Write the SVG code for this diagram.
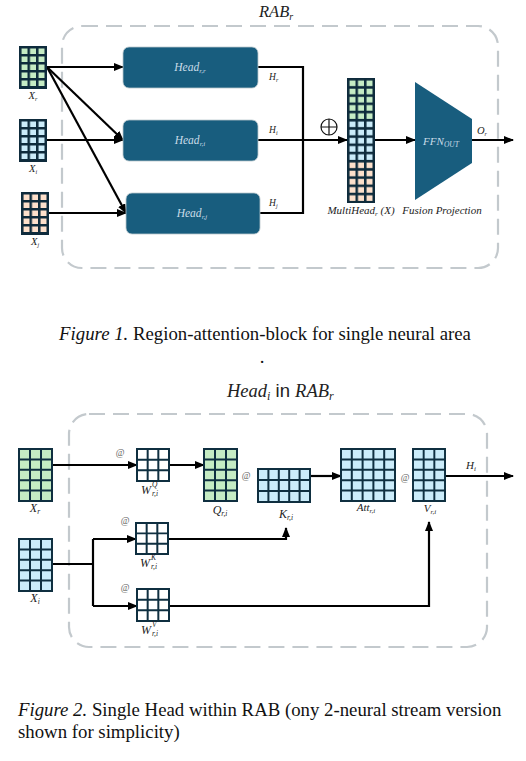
<svg xmlns="http://www.w3.org/2000/svg" xmlns:xlink="http://www.w3.org/1999/xlink" width="526" height="761" viewBox="0 0 526 761">
<style>
.dash{fill:none;stroke:#c3c9cd;stroke-width:2.2;stroke-dasharray:16 8}
.line{fill:none;stroke:#000;stroke-width:2.2}
.head{fill:#185d7e;stroke:#b9c6cc;stroke-width:0.8}
.dark{fill:#0e2b3c}
.grid{fill:none;stroke:#0f2f40;stroke-width:2}
.m{font-family:"Liberation Serif",serif;font-style:italic;fill:#222}
.hm{font-family:"Liberation Serif",serif;font-style:italic;fill:#c9dce8}
.cap{font-family:"Liberation Serif",serif;font-size:18.8px;fill:#111}
.at{font-family:"Liberation Serif",serif;fill:#666}
.gr{fill:#c5ecc4}.bl{fill:#cbecfa}.pe{fill:#fde0cb}.wh{fill:#fff}
</style>
<defs>
<marker id="ah" markerWidth="10" markerHeight="8" refX="9" refY="4" orient="auto" markerUnits="userSpaceOnUse"><path d="M0,0 L10,4 L0,8 Z" fill="#000"/></marker>
<pattern id="dg" width="8.5" height="8" patternUnits="userSpaceOnUse"><rect x="2.5" y="2.5" width="6" height="5.5" fill="#c5ecc4"/></pattern>
<pattern id="db" width="8.5" height="8" patternUnits="userSpaceOnUse"><rect x="2.5" y="2.5" width="6" height="5.5" fill="#cbecfa"/></pattern>
<pattern id="dp" width="8.5" height="8" patternUnits="userSpaceOnUse"><rect x="2.5" y="2.5" width="6" height="5.5" fill="#fde0cb"/></pattern>
<pattern id="mg" width="8.5" height="8.2" patternUnits="userSpaceOnUse"><rect x="2.5" y="2.5" width="6" height="5.6" fill="#c5ecc4"/></pattern>
<pattern id="mb" width="8.5" height="8.2" patternUnits="userSpaceOnUse"><rect x="2.5" y="2.5" width="6" height="5.6" fill="#cbecfa"/></pattern>
<pattern id="mp" width="8.5" height="8.2" patternUnits="userSpaceOnUse"><rect x="2.5" y="2.5" width="6" height="5.6" fill="#fde0cb"/></pattern>
<path id="g35" class="grid" d="M0,0H33V52H0Z M11,0V52 M22,0V52 M0,10.4H33 M0,20.8H33 M0,31.2H33 M0,41.6H33"/>
<path id="g33" class="grid" d="M0,0H32V32H0Z M10.67,0V32 M21.33,0V32 M0,10.67H32 M0,21.33H32"/>
<path id="g53" class="grid" d="M0,0H52V33H0Z M10.4,0V33 M20.8,0V33 M31.2,0V33 M41.6,0V33 M0,11H52 M0,22H52"/>
<path id="g55" class="grid" d="M0,0H54V52H0Z M10.8,0V52 M21.6,0V52 M32.4,0V52 M43.2,0V52 M0,10.4H54 M0,20.8H54 M0,31.2H54 M0,41.6H54"/>
</defs>
<rect width="526" height="761" fill="#fff"/>

<!-- Figure 1 -->
<g id="rab-frame">
<rect class="dash" x="62" y="26" width="436" height="242" rx="20"/>
<text class="m" x="259" y="17" font-size="16.5">RAB<tspan font-size="10" dy="3">r</tspan></text>
</g>

<g id="connectors-top">
<path class="line" d="M47,67 H123" marker-end="url(#ah)"/>
<path class="line" d="M47,67 L123,140" marker-end="url(#ah)"/>
<path class="line" d="M47,67 L126,213" marker-end="url(#ah)"/>
<path class="line" d="M47,140 H123" marker-end="url(#ah)"/>
<path class="line" d="M49,213 H126" marker-end="url(#ah)"/>
<path class="line" d="M258,67 H303 V213 H260"/>
<path class="line" d="M258,140 H347" marker-end="url(#ah)"/>
<path class="line" d="M375,140 H415" marker-end="url(#ah)"/>
<path class="line" d="M472,140 H513" marker-end="url(#ah)"/>
<text class="m" x="269" y="80" font-size="9.5">H<tspan font-size="6" dy="2">r</tspan></text>
<text class="m" x="269" y="133" font-size="9.5">H<tspan font-size="6" dy="2">i</tspan></text>
<text class="m" x="269" y="206" font-size="9.5">H<tspan font-size="6" dy="2">j</tspan></text>
<text class="m" x="477" y="134" font-size="10.5">O<tspan font-size="6" dy="2">r</tspan></text>
<g id="oplus" fill="none" stroke="#111" stroke-width="1.2"><circle cx="329" cy="127" r="8"/><path d="M321,127 H337 M329,119 V135"/></g>
</g>

<g id="input-xr" transform="translate(19,46)">
<rect class="dark" width="28" height="43"/><rect width="26" height="41" fill="url(#dg)"/>
<text class="m" x="14" y="53" font-size="10.5" text-anchor="middle">X<tspan font-size="6" dy="2">r</tspan></text>
</g>
<g id="input-xi" transform="translate(19,119)">
<rect class="dark" width="28" height="43"/><rect width="26" height="41" fill="url(#db)"/>
<text class="m" x="14" y="53" font-size="10.5" text-anchor="middle">X<tspan font-size="6" dy="2">i</tspan></text>
</g>
<g id="input-xj" transform="translate(21,192)">
<rect class="dark" width="28" height="43"/><rect width="26" height="41" fill="url(#dp)"/>
<text class="m" x="14" y="53" font-size="10.5" text-anchor="middle">X<tspan font-size="6" dy="2">j</tspan></text>
</g>

<g id="head-rr">
<rect class="head" x="123" y="47" width="135" height="41" rx="6"/>
<text class="hm" x="190" y="71" font-size="11.5" text-anchor="middle">Head<tspan font-size="7" dy="2">r,r</tspan></text>
</g>
<g id="head-ri">
<rect class="head" x="123" y="120" width="135" height="41" rx="6"/>
<text class="hm" x="190" y="144" font-size="11.5" text-anchor="middle">Head<tspan font-size="7" dy="2">r,i</tspan></text>
</g>
<g id="head-rj">
<rect class="head" x="126" y="193" width="134" height="41" rx="6"/>
<text class="hm" x="192" y="217" font-size="11.5" text-anchor="middle">Head<tspan font-size="7" dy="2">r,j</tspan></text>
</g>

<g id="multihead" transform="translate(347,78)">
<rect class="dark" width="28" height="125"/>
<rect y="0" width="26" height="41" fill="url(#mg)"/>
<rect y="41" width="26" height="41" fill="url(#mb)"/>
<rect y="82" width="26" height="41" fill="url(#mp)"/>
<text class="m" x="14" y="136" font-size="11" text-anchor="middle">MultiHead<tspan font-size="7" dy="2">r</tspan><tspan dy="-2"> (X)</tspan></text>
</g>

<g id="fusion">
<path d="M415,82 L472,119 L472,163 L415,200 Z" fill="#185d7e"/>
<text class="hm" x="441" y="145" font-size="11" text-anchor="middle">FFN<tspan font-size="7.5" dy="2">OUT</tspan></text>
<text class="m" x="442" y="214" font-size="11" text-anchor="middle">Fusion Projection</text>
</g>

<text class="cap" x="265" y="340" text-anchor="middle"><tspan font-style="italic">Figure 1.</tspan> Region-attention-block for single neural area</text>
<text class="cap" x="262" y="363" text-anchor="middle">.</text>

<!-- Figure 2 -->
<g id="head-frame">
<rect class="dash" x="69" y="414" width="418" height="233" rx="20"/>
<text x="227" y="397" font-size="18.5"><tspan class="m">Head</tspan><tspan class="m" font-size="12" dy="3">i</tspan><tspan dy="-3" font-family="Liberation Sans, sans-serif" fill="#222"> in </tspan><tspan class="m">RAB</tspan><tspan class="m" font-size="12" dy="3">r</tspan></text>
</g>

<g id="connectors-bottom">
<path class="line" d="M52,465 H137" marker-end="url(#ah)"/>
<path class="line" d="M169,465 H204" marker-end="url(#ah)"/>
<path class="line" d="M310,476 H341" marker-end="url(#ah)"/>
<path class="line" d="M445,476 H513" marker-end="url(#ah)"/>
<path class="line" d="M52,564 H93"/>
<path class="line" d="M93,539 V606"/>
<path class="line" d="M93,539 H136" marker-end="url(#ah)"/>
<path class="line" d="M93,606 H137" marker-end="url(#ah)"/>
<path class="line" d="M168,539 H286 V528" marker-end="url(#ah)"/>
<path class="line" d="M169,606 H429 V522" marker-end="url(#ah)"/>
<text class="at" x="120" y="456" font-size="9.5" text-anchor="middle">@</text>
<text class="at" x="246" y="479" font-size="9.5" text-anchor="middle">@</text>
<text class="at" x="405" y="481" font-size="9.5" text-anchor="middle">@</text>
<text class="at" x="125" y="524" font-size="9.5" text-anchor="middle">@</text>
<text class="at" x="125" y="591" font-size="9.5" text-anchor="middle">@</text>
<text class="m" x="466" y="469" font-size="11">H<tspan font-size="7" dy="2">i</tspan></text>
</g>

<g id="xr2" transform="translate(19,449)">
<rect class="gr" width="33" height="52"/><use xlink:href="#g35"/>
<text class="m" x="16" y="63" font-size="12" text-anchor="middle">X<tspan font-size="7.5" dy="2">r</tspan></text>
</g>
<g id="xi2" transform="translate(19,539)">
<rect class="bl" width="33" height="52"/><use xlink:href="#g35"/>
<text class="m" x="16" y="63" font-size="12" text-anchor="middle">X<tspan font-size="7.5" dy="2">i</tspan></text>
</g>
<g id="wq" transform="translate(137,449)">
<rect class="wh" width="32" height="32"/><use xlink:href="#g33"/>
<text class="m" x="4" y="45" font-size="12">W</text>
<text class="m" x="15" y="38" font-size="7.5">Q</text>
<text class="m" x="15" y="47" font-size="7.5">r,i</text>
</g>
<g id="wk" transform="translate(136,523)">
<rect class="wh" width="32" height="31"/><use xlink:href="#g33" transform="scale(1,0.97)"/>
<text class="m" x="4" y="44" font-size="12">W</text>
<text class="m" x="15" y="37" font-size="7.5">K</text>
<text class="m" x="15" y="46" font-size="7.5">r,i</text>
</g>
<g id="wv" transform="translate(137,589)">
<rect class="wh" width="32" height="32"/><use xlink:href="#g33"/>
<text class="m" x="4" y="45" font-size="12">W</text>
<text class="m" x="15" y="38" font-size="7.5">V</text>
<text class="m" x="15" y="47" font-size="7.5">r,i</text>
</g>
<g id="q" transform="translate(204,449)">
<rect class="gr" width="33" height="52"/><use xlink:href="#g35"/>
<text class="m" x="16" y="65" font-size="12" text-anchor="middle">Q<tspan font-size="7.5" dy="2">r,i</tspan></text>
</g>
<g id="k" transform="translate(258,469)">
<rect class="bl" width="52" height="33"/><use xlink:href="#g53"/>
<text class="m" x="28" y="49" font-size="12" text-anchor="middle">K<tspan font-size="7.5" dy="2">r,i</tspan></text>
</g>
<g id="att" transform="translate(341,449)">
<rect class="bl" width="54" height="52"/><use xlink:href="#g55"/>
<text class="m" x="25" y="62" font-size="11" text-anchor="middle">Att<tspan font-size="7" dy="2">r,i</tspan></text>
</g>
<g id="v" transform="translate(413,449)">
<rect class="bl" width="32" height="52"/><use xlink:href="#g35" transform="scale(0.97,1)"/>
<text class="m" x="17" y="63" font-size="11" text-anchor="middle">V<tspan font-size="7" dy="2">r,i</tspan></text>
</g>

<text class="cap" x="18" y="716"><tspan font-style="italic">Figure 2.</tspan> Single Head within RAB (ony 2-neural stream version</text>
<text class="cap" x="18" y="738">shown for simplicity)</text>
</svg>
